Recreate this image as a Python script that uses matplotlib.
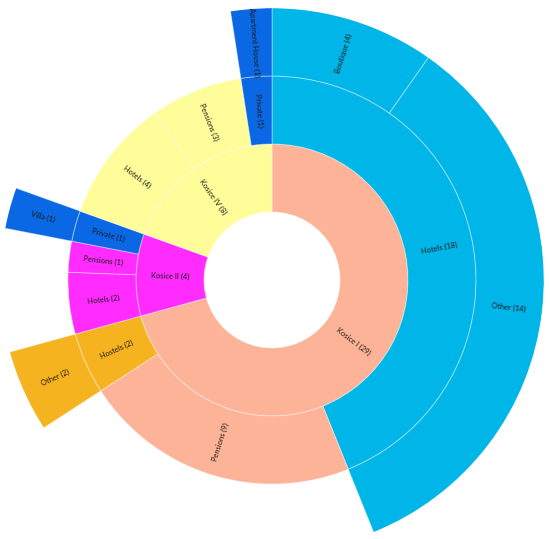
import numpy as np
import matplotlib
matplotlib.use("Agg")
import matplotlib.pyplot as plt

# ---- data -------------------------------------------------------------
districts = ["Kosice I", "Kosice II", "Kosice IV"]
district_counts = [29, 4, 8]

type_parents = ["Kosice I", "Kosice I", "Kosice I",
                "Kosice II", "Kosice II", "Kosice II",
                "Kosice IV", "Kosice IV", "Kosice IV"]
types = ["Hotels", "Pensions", "Hostels",
         "Hotels", "Pensions", "Private",
         "Hotels", "Pensions", "Private"]
type_counts = [18, 9, 2, 2, 1, 1, 4, 3, 1]

sub_parents = [("Kosice I", "Hotels"), ("Kosice I", "Hotels"),
               ("Kosice I", "Hostels"), ("Kosice II", "Private"),
               ("Kosice IV", "Private")]
subtypes = ["Boutique", "Other", "Other", "Villa", "Apartment House"]
subtype_counts = [4, 14, 2, 1, 1]

# ---- styles -----------------------------------------------------------
PEACH = "#FDB398"
CYAN = "#00B5E8"
ORANGE = "#F5B31F"
MAGENTA = "#FF2BFF"
YELLOW = "#FFFC9A"
BLUE = "#0A68E4"

district_colors = {"Kosice I": PEACH, "Kosice II": MAGENTA, "Kosice IV": YELLOW}
type_colors = {("Kosice I", "Hotels"): CYAN, ("Kosice I", "Pensions"): PEACH,
               ("Kosice I", "Hostels"): ORANGE,
               ("Kosice II", "Hotels"): MAGENTA, ("Kosice II", "Pensions"): MAGENTA,
               ("Kosice II", "Private"): BLUE,
               ("Kosice IV", "Hotels"): YELLOW, ("Kosice IV", "Pensions"): YELLOW,
               ("Kosice IV", "Private"): BLUE}

plt.rcParams["font.family"] = ["Lato", "DejaVu Sans"]

W, H = 550, 539
fig = plt.figure(figsize=(W / 100, H / 100), dpi=100)
cx, cy, R = 272, 280, 272
ax = fig.add_axes([(cx - R) / W, (H - cy - R) / H, 2 * R / W, 2 * R / H],
                  projection="polar")
ax.set_theta_zero_location("N")
ax.set_theta_direction(-1)
ax.set_ylim(0, 4)
ax.set_axis_off()

total = sum(district_counts)
unit = 2 * np.pi / total
EDGE = (1, 1, 1, 0.4)


def draw(start, count, level, color, label):
    width = count * unit
    ax.bar(start, 1, width=width, bottom=level, align="edge",
           color=color, edgecolor=EDGE, linewidth=0.7)
    mid = start + width / 2
    rot = 90 - np.degrees(mid)
    rot = (rot + 180) % 360 - 180
    if rot > 90:
        rot -= 180
    elif rot < -90:
        rot += 180
    ax.text(mid, level + 0.5, f"{label} ({count})", rotation=rot,
            rotation_mode="anchor", ha="center", va="center",
            fontsize=5.4, color="#1a1a1a")


# level 1
starts1 = {}
pos = 0.0
for d, c in zip(districts, district_counts):
    starts1[d] = pos
    draw(pos, c, 1, district_colors[d], d)
    pos += c * unit

# level 2
starts2 = {}
cursor = dict(starts1)
for p, t, c in zip(type_parents, types, type_counts):
    s = cursor[p]
    starts2[(p, t)] = s
    draw(s, c, 2, type_colors[(p, t)], t)
    cursor[p] = s + c * unit

# level 3
cursor = dict(starts2)
for key, st, c in zip(sub_parents, subtypes, subtype_counts):
    s = cursor[key]
    draw(s, c, 3, type_colors[key], st)
    cursor[key] = s + c * unit

fig.savefig("out.png", dpi=100)
